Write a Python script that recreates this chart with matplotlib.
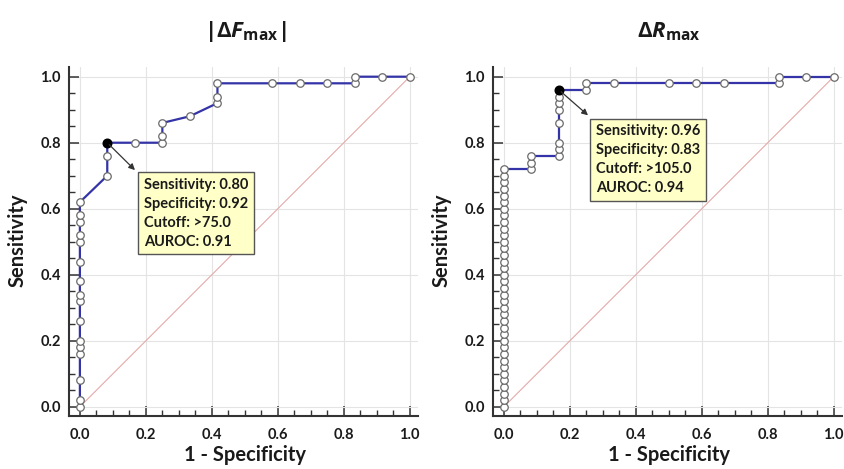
import matplotlib
matplotlib.use("Agg")
import matplotlib.pyplot as plt
from matplotlib.ticker import MultipleLocator

plt.rcParams['font.family'] = ['Lato', 'DejaVu Sans']
plt.rcParams['font.weight'] = 'bold'
plt.rcParams['mathtext.fontset'] = 'custom'
plt.rcParams['mathtext.rm'] = 'Open Sans:bold'
plt.rcParams['mathtext.it'] = 'Open Sans:italic:bold'
plt.rcParams['mathtext.bf'] = 'Open Sans:bold'

# ---- data ----
fpr_F = [0, 0, 0, 0, 0, 0, 0, 0, 0, 0, 0, 0, 0, 0, 0, 0,
         0.083, 0.083, 0.083, 0.167, 0.25, 0.25, 0.25, 0.333,
         0.417, 0.417, 0.417, 0.583, 0.667, 0.75, 0.833, 0.833, 0.917, 1.0]
tpr_F = [0.00, 0.02, 0.08, 0.16, 0.18, 0.20, 0.26, 0.32, 0.34, 0.38, 0.44,
         0.50, 0.52, 0.56, 0.58, 0.62,
         0.70, 0.76, 0.80, 0.80, 0.80, 0.82, 0.86, 0.88,
         0.92, 0.94, 0.98, 0.98, 0.98, 0.98, 0.98, 1.00, 1.00, 1.00]
opt_F = (0.083, 0.80)
text_F = ["Sensitivity: 0.80", "Specificity: 0.92", "Cutoff: >75.0", "AUROC: 0.91"]

fpr_R = [0] * 37 + [0.083, 0.083, 0.083, 0.167, 0.167, 0.167, 0.167, 0.167,
                    0.167, 0.167, 0.167, 0.25, 0.25, 0.333, 0.5, 0.583,
                    0.667, 0.833, 0.833, 0.917, 1.0]
tpr_R = [0.00, 0.02, 0.04, 0.06, 0.08, 0.10, 0.12, 0.14, 0.16, 0.18,
         0.20, 0.22, 0.24, 0.26, 0.28, 0.30, 0.32, 0.34, 0.36, 0.38,
         0.40, 0.42, 0.44, 0.46, 0.48, 0.50, 0.52, 0.54, 0.56, 0.58,
         0.60, 0.62, 0.64, 0.66, 0.68, 0.70, 0.72,
         0.72, 0.74, 0.76, 0.76, 0.78, 0.80, 0.86, 0.90, 0.92, 0.94, 0.96,
         0.96, 0.98, 0.98, 0.98, 0.98, 0.98, 0.98, 1.00, 1.00, 1.00]
opt_R = (0.167, 0.96)
text_R = ["Sensitivity: 0.96", "Specificity: 0.83", "Cutoff: >105.0", "AUROC: 0.94"]

titles = [r'$|\Delta F_{\mathrm{max}}|$', r'$\Delta R_{\mathrm{max}}$']
xlabel = "1 - Specificity"
ylabel = "Sensitivity"
ticks = [0.0, 0.2, 0.4, 0.6, 0.8, 1.0]
tick_labels = ["0.0", "0.2", "0.4", "0.6", "0.8", "1.0"]

fig = plt.figure(figsize=(8.44, 4.69), dpi=100)
W, H = 844, 469

panels = [
    dict(fpr=fpr_F, tpr=tpr_F, opt=opt_F, text=text_F, left=69,
         box=(0.194, 0.693), arrow_end=(0.167, 0.717)),
    dict(fpr=fpr_R, tpr=tpr_R, opt=opt_R, text=text_R, left=493,
         box=(0.278, 0.856), arrow_end=(0.255, 0.883)),
]

for i, p in enumerate(panels):
    ax = fig.add_axes([p['left'] / W, 1 - 415.7 / H, 349 / W, (415.7 - 66.8) / H])
    ax.set_xlim(-0.033, 1.025)
    ax.set_ylim(-0.027, 1.03)
    ax.grid(True, color='#e4e4e4', lw=0.8)
    ax.set_axisbelow(True)
    ax.plot([0, 1], [0, 1], color='#e6a9a9', lw=0.8, zorder=2)
    ax.plot(p['fpr'], p['tpr'], color='#3434a8', lw=1.6, zorder=3)
    ax.plot(p['fpr'], p['tpr'], ls='none', marker='o', ms=5.4,
            mfc='white', mec='#6a6a6a', mew=0.9, zorder=4)
    ax.plot([p['opt'][0]], [p['opt'][1]], ls='none', marker='o', ms=6.2,
            mfc='black', mec='black', zorder=5)
    ax.annotate('', xy=p['arrow_end'], xytext=p['opt'],
                arrowprops=dict(arrowstyle='-|>', color='#333333', lw=0.9,
                                mutation_scale=9, shrinkA=2, shrinkB=0), zorder=6)
    ax.text(p['box'][0], p['box'][1], "\n".join(p['text']), ha='left', va='top',
            fontsize=10.5, fontweight='bold', color='#1a1a1a', linespacing=1.45,
            bbox=dict(boxstyle='square,pad=0.38', fc='#ffffc8', ec='#555555', lw=1),
            zorder=7)
    for s in ['top', 'right']:
        ax.spines[s].set_visible(False)
    for s in ['left', 'bottom']:
        ax.spines[s].set_color('#333333')
        ax.spines[s].set_linewidth(1.5)
    ax.set_xticks(ticks)
    ax.set_xticklabels(tick_labels)
    ax.set_yticks(ticks)
    ax.set_yticklabels(tick_labels)
    ax.xaxis.set_minor_locator(MultipleLocator(0.05))
    ax.yaxis.set_minor_locator(MultipleLocator(0.05))
    ax.tick_params(which='major', direction='in', length=7, width=1.1,
                   color='#333333', labelsize=10.5, labelcolor='#1a1a1a')
    ax.tick_params(axis='x', which='major', pad=9)
    ax.tick_params(axis='y', which='major', pad=6)
    ax.tick_params(which='minor', direction='in', length=4, width=1.0, color='#333333')
    for lab in ax.get_xticklabels() + ax.get_yticklabels():
        lab.set_fontweight('bold')
    cx = (p['left'] + 11 + 165) / W
    fig.text(cx, 1 - 32 / H, titles[i], ha='center', va='center', fontsize=16,
             color='#1a1a1a')
    fig.text(cx, 1 - 455 / H, xlabel, ha='center', va='center', fontsize=14.5,
             fontweight='bold', color='#1a1a1a')
    fig.text((p['left'] - 51) / W, 1 - 240 / H, ylabel, ha='center', va='center',
             rotation=90, fontsize=14.5, fontweight='bold', color='#1a1a1a')

fig.savefig('out.png', dpi=100)
